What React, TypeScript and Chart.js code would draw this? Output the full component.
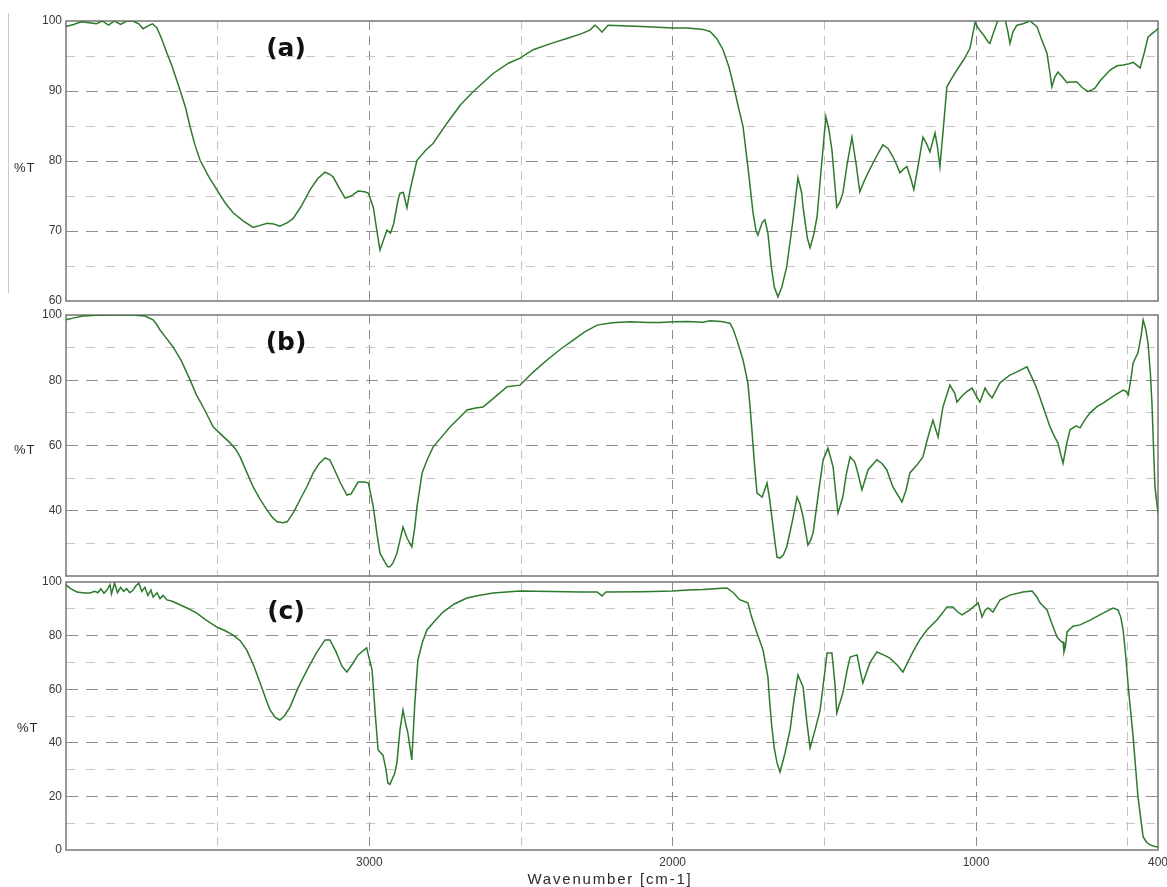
import React, { useEffect, useRef } from 'react';
import { Chart, registerables } from 'chart.js';

Chart.register(...registerables);

// ---------- DATA ----------
// x tick values (cm-1) and labels
const gridWavenumbers = [3500, 3000, 2500, 2000, 1500, 1000, 500];
const labelledWavenumbers = [3000, 2000, 1000, 400];

// (a)
const wnA = [4000, 3975, 3950, 3930, 3900, 3880, 3860, 3840, 3820, 3800, 3780, 3760, 3746, 3730, 3715, 3700, 3685, 3667, 3650, 3624, 3605, 3591, 3575, 3558, 3530, 3503, 3475, 3449, 3415, 3383, 3360, 3337, 3315, 3295, 3270, 3251, 3225, 3195, 3170, 3146, 3130, 3119, 3100, 3080, 3060, 3037, 3015, 3003, 2987, 2975, 2965, 2955, 2942, 2930, 2920, 2905, 2899, 2888, 2876, 2865, 2843, 2815, 2790, 2744, 2700, 2658, 2592, 2540, 2503, 2460, 2400, 2349, 2300, 2273, 2256, 2245, 2233, 2213, 2100, 2000, 1950, 1900, 1877, 1855, 1834, 1815, 1801, 1785, 1768, 1752, 1735, 1725, 1719, 1705, 1696, 1686, 1675, 1665, 1653, 1640, 1624, 1605, 1587, 1575, 1570, 1556, 1547, 1535, 1524, 1510, 1495, 1485, 1475, 1459, 1450, 1439, 1425, 1409, 1395, 1383, 1370, 1356, 1330, 1307, 1290, 1274, 1262, 1251, 1240, 1228, 1215, 1205, 1190, 1175, 1163, 1152, 1135, 1127, 1119, 1108, 1096, 1080, 1063, 1040, 1020, 1003, 990, 975, 960, 954, 945, 927, 915, 904, 895, 888, 878, 865, 845, 822, 799, 785, 766, 756, 750, 740, 730, 715, 700, 690, 667, 650, 631, 620, 608, 590, 558, 535, 515, 495, 482, 470, 459, 445, 433, 420, 404, 400];
const tA = [99.2, 99.5, 99.9, 99.8, 99.6, 100, 99.4, 100, 99.5, 100, 100, 99.6, 98.9, 99.3, 99.6, 99.0, 97.5, 95.4, 93.5, 90.1, 87.5, 84.9, 82.3, 80.1, 77.8, 75.9, 74.0, 72.6, 71.4, 70.5, 70.8, 71.1, 71.0, 70.7, 71.2, 71.8, 73.5, 75.9, 77.5, 78.4, 78.1, 77.7, 76.2, 74.7, 75.0, 75.7, 75.6, 75.4, 73.4, 70.0, 67.3, 68.5, 70.1, 69.7, 71.0, 74.5, 75.4, 75.5, 73.3, 76.0, 80.1, 81.5, 82.5, 85.4, 88.0, 89.9, 92.5, 94.0, 94.7, 95.9, 96.8, 97.5, 98.2, 98.7, 99.4, 99.0, 98.4, 99.4, 99.2, 99.0, 99.0, 98.8, 98.5, 97.5, 95.9, 93.5, 91.1, 88.0, 84.9, 79.2, 72.6, 70.0, 69.4, 71.2, 71.6, 69.7, 65.0, 62.0, 60.6, 62.0, 64.9, 71.0, 77.6, 75.5, 73.4, 69.0, 67.6, 69.5, 72.0, 79.0, 86.3, 84.5, 81.6, 73.4, 74.0, 75.4, 79.5, 83.4, 79.5, 75.6, 77.0, 78.3, 80.5, 82.3, 81.8, 80.6, 79.5, 78.3, 78.8, 79.2, 77.5, 75.9, 79.5, 83.4, 82.5, 81.3, 84.0, 82.0, 79.2, 84.5, 90.6, 91.8, 93.0, 94.5, 96.1, 99.8, 98.8, 98.0, 97.0, 96.8, 98.0, 100.2, 100.5, 100.2, 98.5, 96.8, 98.5, 99.4, 99.6, 100.0, 99.2, 97.5, 95.4, 92.5, 90.6, 92.0, 92.7, 92.0, 91.2, 91.3, 91.3, 90.5, 89.9, 90.1, 90.4, 91.5, 93.0, 93.6, 93.7, 93.9, 94.1, 93.7, 93.3, 95.5, 97.7, 98.2, 98.7, 99.0];

// (b)
const wnB = [4000, 3970, 3944, 3900, 3850, 3779, 3740, 3713, 3700, 3690, 3670, 3647, 3620, 3591, 3570, 3548, 3530, 3515, 3490, 3459, 3440, 3426, 3405, 3383, 3360, 3337, 3320, 3304, 3285, 3271, 3250, 3229, 3205, 3185, 3165, 3146, 3130, 3119, 3095, 3074, 3060, 3037, 3015, 3003, 2987, 2975, 2965, 2950, 2939, 2932, 2922, 2909, 2899, 2889, 2875, 2860, 2850, 2843, 2826, 2810, 2790, 2760, 2734, 2700, 2678, 2650, 2625, 2590, 2546, 2503, 2460, 2414, 2370, 2328, 2290, 2249, 2200, 2141, 2080, 2040, 1999, 1950, 1900, 1877, 1840, 1811, 1800, 1788, 1768, 1752, 1745, 1738, 1730, 1722, 1705, 1689, 1681, 1673, 1665, 1656, 1646, 1635, 1624, 1605, 1590, 1580, 1570, 1554, 1545, 1537, 1520, 1504, 1488, 1471, 1463, 1455, 1439, 1428, 1415, 1400, 1392, 1376, 1356, 1327, 1310, 1294, 1274, 1244, 1230, 1218, 1195, 1175, 1160, 1142, 1133, 1125, 1109, 1086, 1070, 1063, 1043, 1030, 1013, 995, 987, 970, 960, 947, 921, 888, 860, 832, 812, 800, 789, 770, 756, 740, 730, 720, 713, 700, 690, 670, 657, 640, 624, 600, 581, 550, 515, 505, 498, 490, 482, 466, 455, 449, 440, 433, 425, 420, 415, 410, 400];
const tB = [98.5, 99.2, 99.7, 99.9, 100, 100, 99.7, 98.5, 97.0, 95.4, 93.0, 90.2, 86.0, 80.1, 75.5, 71.8, 68.5, 65.7, 63.5, 60.8, 58.8, 56.5, 52.0, 47.3, 43.5, 40.2, 38.0, 36.6, 36.3, 36.6, 39.5, 43.3, 47.5, 51.6, 54.5, 56.2, 55.5, 53.4, 48.5, 44.8, 45.2, 48.8, 48.8, 48.5, 41.2, 33.0, 27.0, 24.5, 22.8, 22.8, 24.0, 27.0, 31.0, 35.0, 31.5, 28.9, 35.0, 41.2, 51.6, 55.5, 59.5, 62.8, 65.7, 68.8, 70.9, 71.5, 71.8, 74.5, 78.0, 78.5, 82.5, 86.2, 89.5, 92.3, 94.8, 96.9, 97.6, 97.9, 97.7, 97.7, 97.9, 98.0, 97.8, 98.2, 98.0, 97.5, 95.5, 92.3, 86.2, 79.2, 72.0, 63.8, 54.0, 45.4, 44.2, 48.5, 44.0, 38.1, 32.0, 25.8, 25.5, 26.5, 28.9, 37.0, 44.2, 42.0, 38.1, 29.5, 31.0, 33.2, 45.0, 55.6, 59.2, 53.4, 46.0, 39.3, 44.2, 51.0, 56.5, 55.0, 52.5, 46.4, 52.5, 55.6, 54.5, 52.5, 47.3, 42.7, 46.5, 51.6, 54.0, 56.5, 62.0, 67.8, 65.0, 62.6, 71.8, 78.5, 76.0, 73.3, 75.5, 76.5, 77.6, 74.5, 73.3, 77.6, 76.0, 74.6, 79.2, 81.6, 82.8, 84.1, 80.1, 77.5, 74.6, 69.5, 65.7, 62.5, 60.8, 57.0, 54.6, 61.0, 64.8, 66.0, 65.4, 68.0, 70.0, 72.0, 73.0, 75.0, 77.0, 76.5, 75.5, 80.0, 85.3, 88.4, 94.0, 98.5, 95.5, 91.4, 82.0, 73.0, 60.0, 47.3, 39.3];

// (c)
const wnC = [4000, 3985, 3964, 3940, 3921, 3905, 3895, 3885, 3875, 3865, 3855, 3850, 3840, 3830, 3820, 3810, 3800, 3790, 3780, 3770, 3760, 3750, 3740, 3730, 3720, 3713, 3700, 3690, 3680, 3667, 3650, 3630, 3601, 3570, 3540, 3503, 3475, 3449, 3425, 3404, 3380, 3360, 3340, 3327, 3310, 3295, 3280, 3261, 3235, 3205, 3175, 3146, 3130, 3110, 3090, 3074, 3055, 3037, 3009, 2991, 2980, 2971, 2955, 2945, 2939, 2932, 2916, 2909, 2899, 2889, 2880, 2873, 2860, 2850, 2840, 2825, 2810, 2780, 2757, 2720, 2678, 2640, 2592, 2503, 2400, 2300, 2249, 2233, 2220, 2100, 1999, 1950, 1900, 1850, 1821, 1800, 1778, 1752, 1740, 1722, 1702, 1686, 1680, 1673, 1665, 1656, 1646, 1630, 1613, 1600, 1587, 1570, 1558, 1547, 1530, 1514, 1500, 1491, 1475, 1465, 1459, 1439, 1425, 1415, 1392, 1383, 1373, 1350, 1327, 1305, 1284, 1260, 1241, 1225, 1208, 1185, 1162, 1129, 1110, 1096, 1076, 1060, 1046, 1020, 993, 985, 980, 970, 960, 944, 921, 888, 845, 815, 800, 789, 766, 750, 733, 718, 713, 710, 705, 700, 690, 680, 657, 624, 581, 548, 532, 523, 515, 506, 498, 482, 466, 449, 437, 426, 410, 400];
const tC = [98.9, 97.5, 96.3, 95.9, 95.9, 96.5, 96.0, 97.5, 95.8, 97.0, 99.0, 95.5, 99.6, 96.0, 98.0, 96.5, 97.5, 96.0, 96.8, 98.5, 99.6, 96.5, 98.0, 95.0, 97.0, 94.4, 96.0, 93.8, 95.0, 93.3, 92.8, 91.8, 90.3, 88.5, 86.0, 83.2, 81.8, 80.2, 78.0, 74.6, 68.5, 62.3, 56.0, 52.2, 49.5, 48.5, 50.0, 53.4, 60.5, 67.2, 73.5, 78.4, 78.4, 74.0, 68.5, 66.4, 69.5, 72.8, 75.4, 67.2, 50.0, 37.3, 35.4, 30.0, 25.0, 24.5, 28.7, 32.5, 44.8, 52.2, 47.0, 43.7, 33.6, 54.9, 70.9, 77.5, 82.1, 86.0, 88.8, 91.8, 94.0, 95.0, 95.9, 96.6, 96.5, 96.3, 96.3, 94.8, 96.3, 96.4, 96.6, 97.0, 97.2, 97.6, 97.8, 96.0, 93.3, 92.2, 87.0, 81.0, 74.6, 64.6, 55.0, 45.9, 38.0, 32.5, 29.1, 36.0, 44.8, 56.0, 65.3, 60.8, 48.0, 38.1, 45.0, 52.2, 65.0, 73.5, 73.5, 62.0, 51.1, 58.6, 67.0, 72.0, 72.8, 67.5, 62.3, 69.8, 73.9, 72.8, 71.6, 69.0, 66.4, 70.0, 73.9, 78.5, 82.1, 85.8, 88.5, 90.7, 90.7, 88.8, 87.7, 89.6, 92.2, 89.0, 86.9, 89.5, 90.3, 88.8, 93.3, 95.1, 96.3, 96.6, 94.5, 92.2, 89.6, 84.5, 79.5, 77.6, 77.6, 73.9, 76.0, 81.3, 82.5, 83.5, 84.0, 85.8, 88.4, 90.3, 89.6, 87.0, 82.1, 72.0, 60.8, 42.2, 19.8, 4.9, 2.8, 1.9, 1.3, 1.1];

// ---------- LAYOUT / STYLE ----------
const PAGE_W = 1167;
const PAGE_H = 887;
const AREA_LEFT = 66;
const AREA_RIGHT = 1158;
const PAD = 8;
const LINE_COLOR = '#2d7a2d';
const MAJOR_GRID = '#8c8c8c';
const MINOR_GRID = '#c4c4c4';
const FRAME = '#7d7d7d';
const TICK_FONT = { family: '"Liberation Sans", Arial, sans-serif', size: 12 };

type Panel = {
  key: string;
  wn: number[];
  t: number[];
  yMin: number;
  yMax: number;
  yStep: number;
  yMajor: number;
  hideY: number[];
  top: number;
  bottom: number;
  xLabels: boolean;
};

const PANELS: Panel[] = [
  { key: '(a)', wn: wnA, t: tA, yMin: 60, yMax: 100, yStep: 5, yMajor: 10, hideY: [], top: 21, bottom: 301, xLabels: false },
  { key: '(b)', wn: wnB, t: tB, yMin: 20, yMax: 100, yStep: 10, yMajor: 20, hideY: [20], top: 315, bottom: 576, xLabels: false },
  { key: '(c)', wn: wnC, t: tC, yMin: 0, yMax: 100, yStep: 10, yMajor: 20, hideY: [], top: 582, bottom: 850, xLabels: true },
];

const framePlugin = {
  id: 'frame',
  beforeDatasetsDraw(chart: any) {
    const { ctx, chartArea: a } = chart;
    ctx.save();
    ctx.strokeStyle = FRAME;
    ctx.lineWidth = 1.6;
    ctx.strokeRect(a.left, a.top, a.right - a.left, a.bottom - a.top);
    ctx.restore();
  },
};

function PanelChart({ p }: { p: Panel }) {
  const ref = useRef<HTMLCanvasElement | null>(null);
  const canvasTop = p.top - PAD;
  const bottomExtra = p.xLabels ? PAGE_H - p.bottom : PAD;
  const height = p.bottom - p.top + PAD + bottomExtra;
  const xAxisH = p.xLabels ? 22 : 0;

  useEffect(() => {
    if (!ref.current) return;
    const yTicks: number[] = [];
    for (let v = p.yMin; v <= p.yMax + 1e-9; v += p.yStep) yTicks.push(v);
    const xTicks = p.xLabels ? [...gridWavenumbers, 400] : gridWavenumbers;

    const chart = new Chart(ref.current, {
      type: 'line',
      data: {
        datasets: [
          {
            data: p.wn.map((x, i) => ({ x, y: p.t[i] })),
            borderColor: LINE_COLOR,
            borderWidth: 1.5,
            pointRadius: 0,
            tension: 0,
            fill: false,
          },
        ],
      },
      options: {
        animation: false,
        responsive: false,
        maintainAspectRatio: false,
        devicePixelRatio: 1,
        layout: { padding: { left: 0, right: PAGE_W - AREA_RIGHT, top: PAD, bottom: bottomExtra - xAxisH } },
        plugins: { legend: { display: false }, tooltip: { enabled: false }, title: { display: false } },
        scales: {
          x: {
            type: 'linear',
            reverse: true,
            min: 400,
            max: 4000,
            afterBuildTicks: (s: any) => {
              s.ticks = xTicks.map((v) => ({ value: v }));
            },
            afterFit: (s: any) => {
              s.height = xAxisH;
              s.paddingLeft = 0;
              s.paddingRight = 0;
            },
            grid: {
              drawTicks: false,
              lineWidth: 1,
              color: (ctx: any) => {
                const v = ctx.tick ? ctx.tick.value : 0;
                if (v === 400 || v === 4000) return 'rgba(0,0,0,0)';
                return v % 1000 === 0 ? MAJOR_GRID : MINOR_GRID;
              },
            },
            border: { display: false, dash: [9, 6] },
            ticks: {
              display: p.xLabels,
              autoSkip: false,
              maxRotation: 0,
              padding: 5,
              color: '#3a3a3a',
              font: TICK_FONT,
              callback: (v: any) => (labelledWavenumbers.includes(Number(v)) ? String(v) : ''),
            },
          },
          y: {
            type: 'linear',
            min: p.yMin,
            max: p.yMax,
            afterBuildTicks: (s: any) => {
              s.ticks = yTicks.map((v) => ({ value: v }));
            },
            afterFit: (s: any) => {
              s.width = AREA_LEFT;
              s.paddingTop = 0;
              s.paddingBottom = 0;
            },
            grid: {
              drawTicks: false,
              lineWidth: 1,
              color: (ctx: any) => {
                const v = ctx.tick ? ctx.tick.value : 0;
                if (v === p.yMin || v === p.yMax) return 'rgba(0,0,0,0)';
                return v % p.yMajor === 0 ? MAJOR_GRID : MINOR_GRID;
              },
            },
            border: {
              display: false,
              dash: (ctx: any) => {
                const v = ctx.tick ? ctx.tick.value : 0;
                return v % p.yMajor === 0 ? [12, 8] : [9, 11];
              },
            },
            ticks: {
              autoSkip: false,
              padding: 4,
              color: '#3a3a3a',
              font: TICK_FONT,
              callback: (v: any) => {
                const n = Number(v);
                return n % p.yMajor === 0 && !p.hideY.includes(n) ? String(n) : '';
              },
            },
          },
        },
      } as any,
      plugins: [framePlugin],
    });
    return () => chart.destroy();
  }, []);

  return (
    <canvas
      ref={ref}
      width={PAGE_W}
      height={height}
      style={{ position: 'absolute', left: 0, top: canvasTop, width: PAGE_W, height }}
    />
  );
}

const textBase: React.CSSProperties = { position: 'absolute', whiteSpace: 'nowrap', lineHeight: 1 };

export default function App() {
  return (
    <div style={{ position: 'fixed', left: 0, top: 0, width: PAGE_W, height: PAGE_H, background: '#fff', overflow: 'hidden' }}>
      <div style={{ position: 'absolute', left: 8, top: 13, width: 1, height: 280, background: '#c8c8c8' }} />
      {PANELS.map((p) => (
        <PanelChart key={p.key} p={p} />
      ))}
      {PANELS.map((p) => (
        <div
          key={'t' + p.key}
          style={{
            ...textBase,
            left: 286,
            top: p.top + (p.key === '(c)' ? 28 : 26),
            transform: 'translate(-50%, -50%)',
            fontFamily: '"DejaVu Sans", sans-serif',
            fontWeight: 'bold',
            fontSize: 25,
            color: '#111',
          }}
        >
          {p.key}
        </div>
      ))}
      {PANELS.map((p, i) => (
        <div
          key={'y' + p.key}
          style={{
            ...textBase,
            left: i === 2 ? 17 : 14,
            top: [167, 449, 727][i],
            transform: 'translateY(-50%)',
            fontFamily: '"Liberation Sans", Arial, sans-serif',
            fontSize: 13,
            letterSpacing: 1,
            color: '#2a2a2a',
          }}
        >
          %T
        </div>
      ))}
      <div
        style={{
          ...textBase,
          left: 610,
          top: 878,
          transform: 'translate(-50%, -50%)',
          fontFamily: '"Liberation Sans", Arial, sans-serif',
          fontSize: 15,
          letterSpacing: 1.8,
          color: '#2a2a2a',
        }}
      >
        Wavenumber [cm-1]
      </div>
    </div>
  );
}
